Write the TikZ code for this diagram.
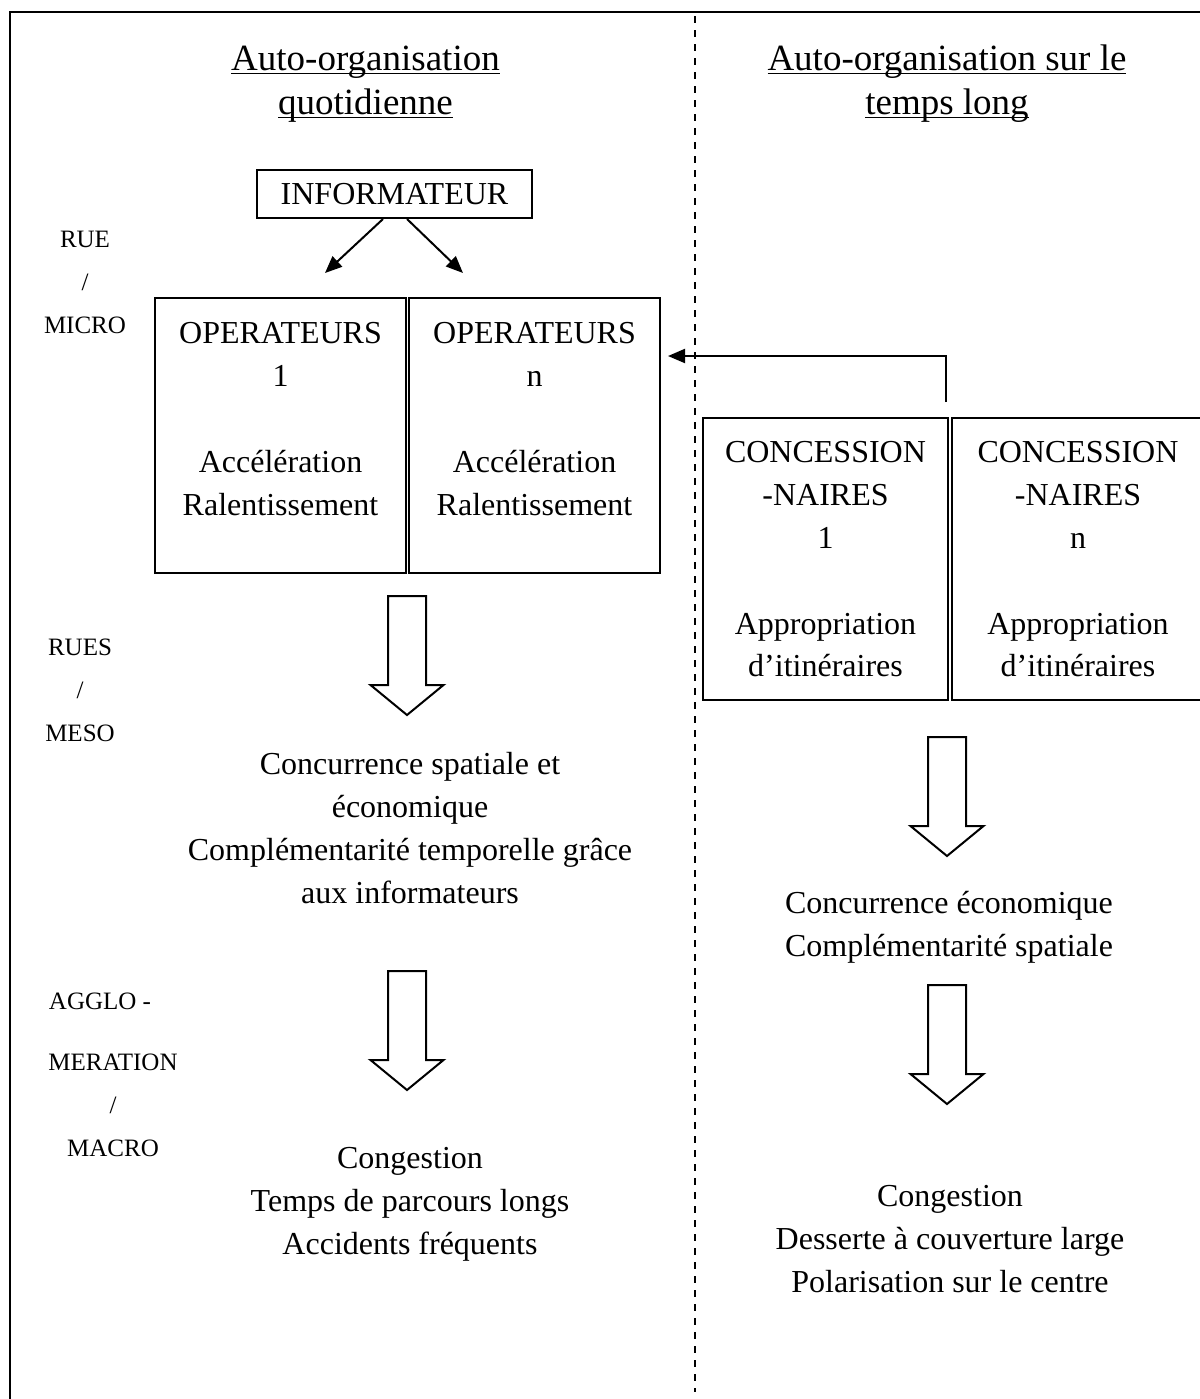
\documentclass[tikz,border=0pt]{standalone}
\usepackage{fontspec}
\setmainfont{Liberation Serif}
\usetikzlibrary{arrows.meta}
\newsavebox\ulbox
\newcommand\ulx[1]{\sbox\ulbox{#1}\rlap{\rule[-2.2pt]{\wd\ulbox}{0.9pt}}\usebox\ulbox}
\newcommand\bodyf{\fontsize{16}{21.4}\selectfont}
\newcommand\titlef{\fontsize{18.5}{22}\selectfont}
\newcommand\labf{\fontsize{12.5}{21.5}\selectfont}
\begin{document}
\begin{tikzpicture}[x=0.5pt,y=-0.5pt,line width=1pt]
\tikzset{
  box/.style={draw,line width=1pt,inner sep=0pt},
  txt/.style={align=center,inner sep=0pt,anchor=north,font=\bodyf},
  ttl/.style={align=center,inner sep=0pt,anchor=north,font=\titlef},
  lab/.style={align=center,inner sep=0pt,anchor=north,font=\labf},
  arr/.style={-{Triangle[length=8.5pt,width=7pt]},line width=1pt},
  hollow/.pic={\draw[line width=1pt,line join=miter] (-19,0) -- (19,0) -- (19,89) -- (36.5,89) -- (0,119) -- (-36.5,89) -- (-19,89) -- cycle;}
}
\path[use as bounding box,clip] (0,0) rectangle (1200,1399);
% frame
\draw (10,1405) -- (10,12) -- (1206,12);
% divider
\draw[dash pattern=on 3.5pt off 3.5pt] (695,16) -- (695,1392);
% titles
\node[ttl] (t1) at (365.5,38.2) {\strut\ulx{Auto-organisation}\\\ulx{quotidienne}};
\node[ttl] (t2) at (947,38.2) {\strut\ulx{Auto-organisation sur le}\\\ulx{temps long}};
% level labels
\node[lab] (l1) at (85,216) {\strut RUE\\/\\MICRO};
\node[lab] (l2) at (80,624) {\strut RUES\\/\\MESO};
\node[lab] (l3a) at (100,978) {\strut AGGLO -};
\node[lab] (l3) at (113,1039) {\strut MERATION\\/\\MACRO};
% informateur
\node[box,minimum width=137.5pt,minimum height=24pt,font=\bodyf] (info) at (394.5,194) {INFORMATEUR};
\coordinate (a1end) at (325,273);
\coordinate (a2end) at (463,273);
\draw[arr] ([xshift=-5.75pt]info.south) -- (a1end);
\draw[arr] ([xshift=6.25pt]info.south) -- (a2end);
% operateurs
\node[box,minimum width=125.5pt,minimum height=137.5pt] (op1) at (280.5,435.5) {};
\node[box,minimum width=125.5pt,minimum height=137.5pt] (opn) at (534.5,435.5) {};
\node[txt] (op1t) at (280.5,313) {\strut OPERATEURS\\1\\\mbox{}\\Accélération\\Ralentissement};
\node[txt] (opnt) at (534.5,313) {\strut OPERATEURS\\n\\\mbox{}\\Accélération\\Ralentissement};
% concessionnaires
\node[box,minimum width=122.5pt,minimum height=141pt] (con1) at (825.5,559) {};
\node[box,minimum width=126pt,minimum height=141pt] (conn) at (1078,559) {};
\node[txt] (con1t) at (825.5,432) {\strut CONCESSION\\-NAIRES\\1\\\mbox{}\\Appropriation\\d’itinéraires};
\node[txt] (connt) at (1078,432) {\strut CONCESSION\\-NAIRES\\n\\\mbox{}\\Appropriation\\d’itinéraires};
\draw[arr] ([xshift=-1.5pt,yshift=7.5pt]con1.north east) |- ([xshift=3.5pt,yshift=39.75pt]opn.east);
% left column
\pic at (407,596) {hollow};
\node[txt] (m1) at (410,744) {\strut Concurrence spatiale et\\économique\\Complémentarité temporelle grâce\\aux informateurs};
\pic at (407,971) {hollow};
\node[txt] (g1) at (410,1138) {\strut Congestion\\Temps de parcours longs\\Accidents fréquents};
% right column
\pic at (947,737) {hollow};
\node[txt] (m2) at (949,883) {\strut Concurrence économique\\Complémentarité spatiale};
\pic at (947,985) {hollow};
\node[txt] (g2) at (950,1176) {\strut Congestion\\Desserte à couverture large\\Polarisation sur le centre};
\end{tikzpicture}
\end{document}
